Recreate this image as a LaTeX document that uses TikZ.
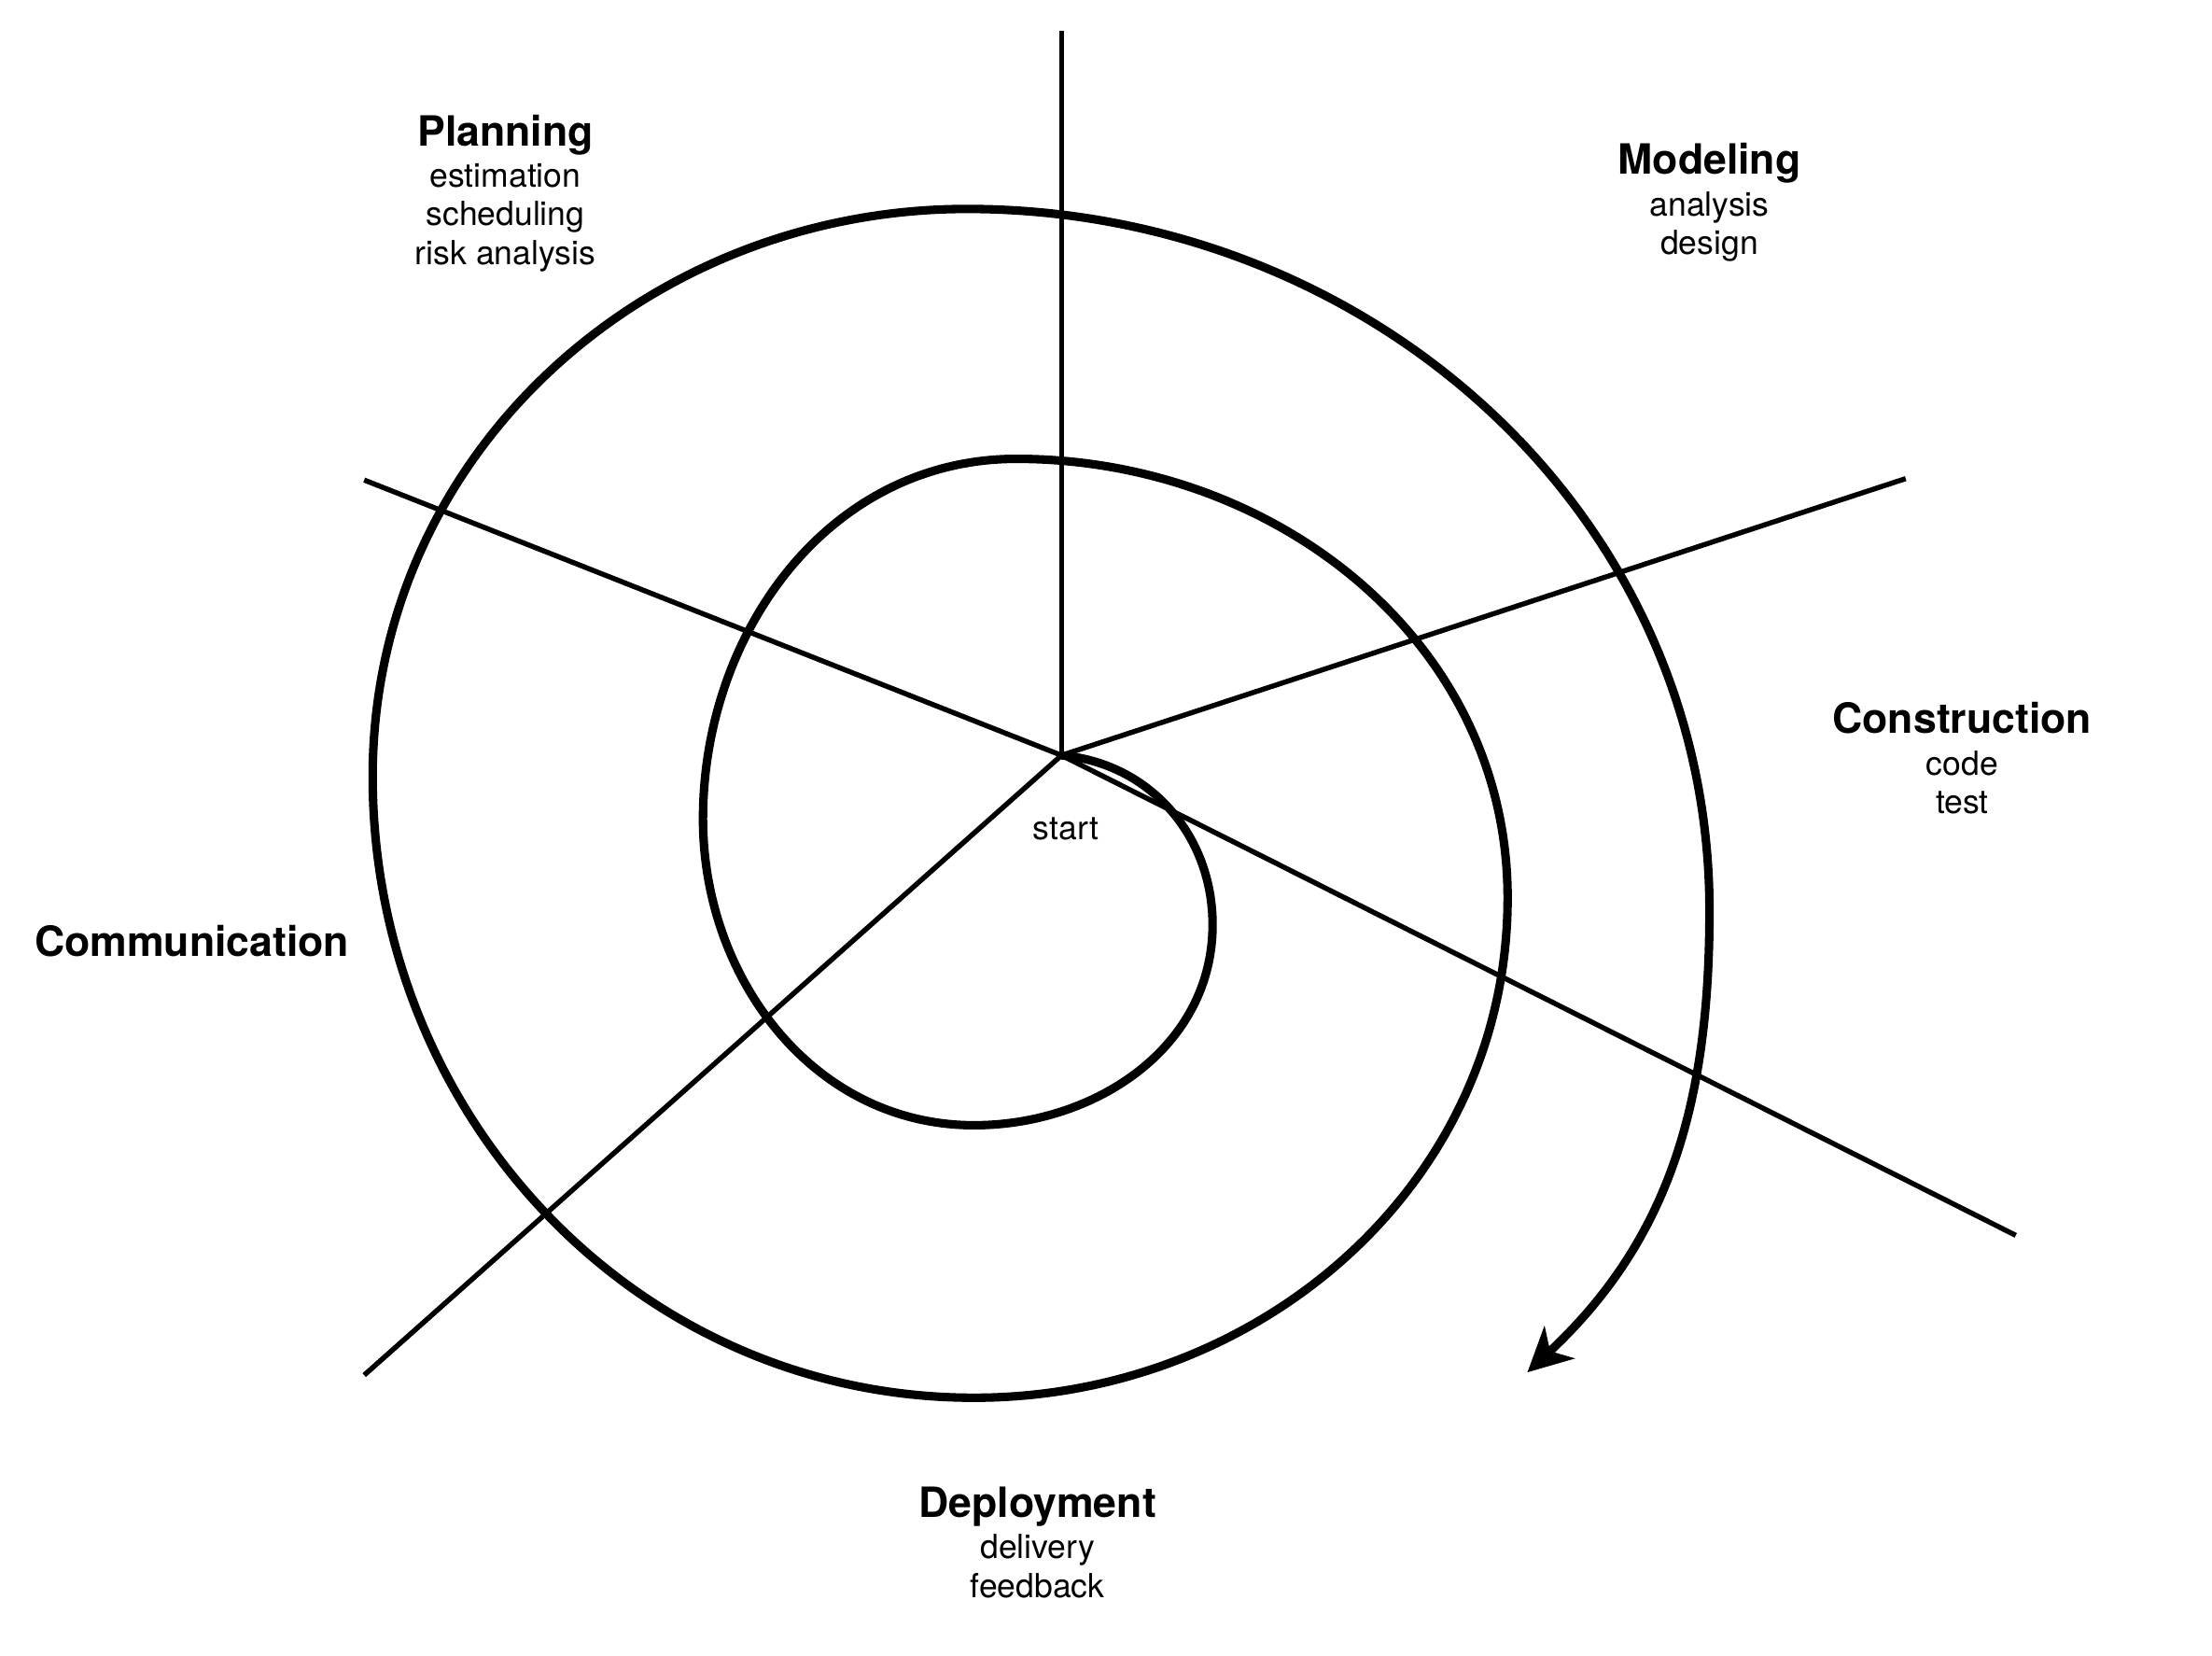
\documentclass[tikz,border=0pt]{standalone}
\usepackage{fontspec}
\setmainfont{TeX Gyre Heros}
\usetikzlibrary{arrows.meta,positioning}
\begin{document}
\begin{tikzpicture}[x=1pt,y=-1pt,
  axis/.style={line width=3.6pt},
  spiral/.style={line width=6pt,line join=round},
  phase/.style={font=\fontsize{29.5}{32}\selectfont\bfseries,inner sep=0pt,anchor=base},
  task/.style={font=\fontsize{23.5}{27.6}\selectfont,align=center,inner sep=0pt}]
  \useasboundingbox (0,0) rectangle (1567,1172.3);

  % Centre and the five sector lines
  \coordinate (o) at (752,535);
  \coordinate (top) at (752,22);
  \coordinate (ul) at (258,340);
  \coordinate (ur) at (1350,339);
  \coordinate (lr) at (1428,875);
  \coordinate (ll) at (258,974);
  \foreach \e in {top,ul,ur,lr,ll}
    \draw[axis] (o) -- (\e);

  % Spiral turning points
  \coordinate (s1) at (859,655);
  \coordinate (s2) at (690,797);
  \coordinate (s3) at (498,580);
  \coordinate (s4) at (720,325);
  \coordinate (s5) at (1068,636);
  \coordinate (s6) at (690,990);
  \coordinate (s7) at (264,550);
  \coordinate (s8) at (685,148);
  \coordinate (s9) at (1211,645);
  \coordinate (tip) at (1082,972);

  \draw[spiral,-{Stealth[length=31pt,width=31pt,inset=9pt]}] (o)
    to[out=-5,in=90] (s1) to[out=270,in=0] (s2) to[out=180,in=270] (s3)
    to[out=90,in=180] (s4) to[out=0,in=90] (s5) to[out=270,in=0] (s6)
    to[out=180,in=270] (s7) to[out=90,in=180] (s8) to[out=0,in=90] (s9)
    to[out=270,in=43] (tip);

  % Phases
  \node[phase] (planning) at (358,103.5) {Planning};
  \node[task,below=12pt of planning.base] (planningtasks) {estimation\\scheduling\\risk analysis};
  \node[phase] (modeling) at (1211,123.5) {Modeling};
  \node[task,below=12pt of modeling.base] (modelingtasks) {analysis\\design};
  \node[phase] (construction) at (1390,519.5) {Construction};
  \node[task,below=12pt of construction.base] (constructiontasks) {code\\test};
  \node[phase] (deployment) at (735,1074.5) {Deployment};
  \node[task,below=12pt of deployment.base] (deploymenttasks) {delivery\\feedback};
  \node[phase] (communication) at (136,677.5) {Communication};

  \node[task,anchor=base] (start) at (755,595) {start};
\end{tikzpicture}
\end{document}
